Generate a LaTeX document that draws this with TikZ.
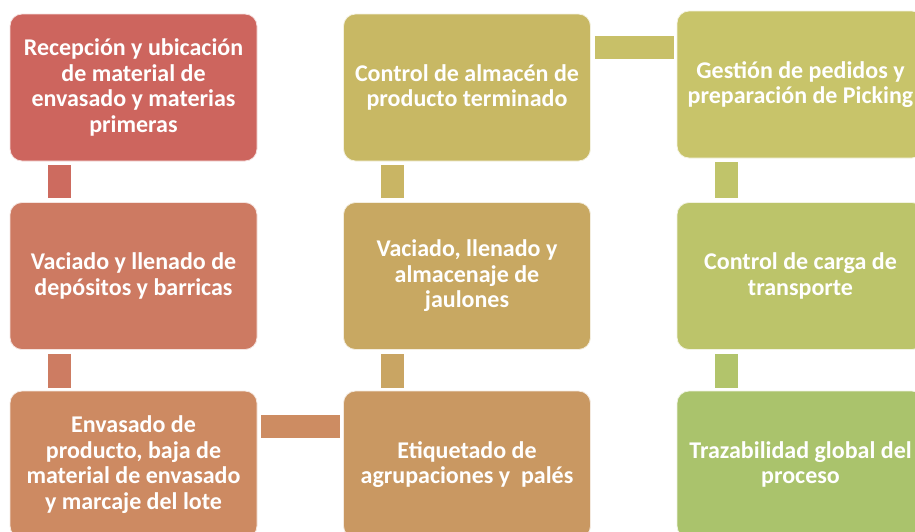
\documentclass[tikz,border=0pt]{standalone}
\usepackage{fontspec}
\setmainfont{Carlito}
\definecolor{boxa}{RGB}{205,101,94}
\definecolor{boxb}{RGB}{205,122,98}
\definecolor{boxc}{RGB}{205,138,98}
\definecolor{boxd}{RGB}{201,152,98}
\definecolor{boxe}{RGB}{200,168,98}
\definecolor{boxf}{RGB}{200,184,100}
\definecolor{boxg}{RGB}{200,196,106}
\definecolor{boxh}{RGB}{188,196,106}
\definecolor{boxi}{RGB}{170,195,108}
\definecolor{linkab}{RGB}{205,107,95}
\definecolor{linkbc}{RGB}{205,124,98}
\definecolor{linkcd}{RGB}{205,140,98}
\definecolor{linkde}{RGB}{201,165,99}
\definecolor{linkef}{RGB}{201,181,100}
\definecolor{linkfg}{RGB}{200,192,104}
\definecolor{linkgh}{RGB}{192,196,106}
\definecolor{linkhi}{RGB}{178,196,107}
\begin{document}
\begin{tikzpicture}[x=1pt,y=-1pt,
  box/.style={rounded corners=12pt, minimum width=247pt, minimum height=147pt,
    align=center, inner sep=0pt, text=white,
    draw=white!80!#1, line width=0.8pt, fill=#1,
    font=\fontsize{24}{25.5}\selectfont\bfseries},
  link/.style={line width=23pt, draw=#1}]
\clip (0,0) rectangle (915,531);
\useasboundingbox (0,0) rectangle (915,531);

\node[box=boxa] (1) at (133.5,87.5) {Recepción y ubicación\\de material de\\envasado y materias\\primeras};
\node[box=boxb] (2) at (133.5,276) {Vaciado y llenado de\\depósitos y barricas};
\node[box=boxc] (3) at (133.5,464.5) {Envasado de\\producto, baja de\\material de envasado\\y marcaje del lote};
\node[box=boxd] (4) at (467,464.5) {Etiquetado de\\agrupaciones y~ palés};
\node[box=boxe] (5) at (467,276) {Vaciado, llenado y\\almacenaje de\\jaulones};
\node[box=boxf] (6) at (467,87.5) {Control de almacén de\\producto terminado};
\node[box=boxg] (7) at (800.5,84.5) {Gestión de pedidos y\\preparación de Picking};
\node[box=boxh] (8) at (800.5,276) {Control de carga de\\transporte};
\node[box=boxi] (9) at (800.5,464.5) {Trazabilidad global del\\proceso};

\path[link=linkab,shorten <=4pt,shorten >=4pt] ([xshift=49.5pt]1.south west) -- ([xshift=49.5pt]2.north west);
\path[link=linkbc,shorten <=4pt,shorten >=3pt] ([xshift=49.5pt]2.south west) -- ([xshift=49.5pt]3.north west);
\path[link=linkcd,shorten <=4pt,shorten >=3pt] ([yshift=-35.5pt]3.north east) -- ([yshift=-35.5pt]4.north west);
\path[link=linkde,shorten <=3pt,shorten >=4pt] ([xshift=49.5pt]4.north west) -- ([xshift=49.5pt]5.south west);
\path[link=linkef,shorten <=4pt,shorten >=4pt] ([xshift=49.5pt]5.north west) -- ([xshift=49.5pt]6.south west);
\path[link=linkfg,shorten <=4pt,shorten >=3pt] ([yshift=-33.5pt]6.north east) -- ([yshift=-33.5pt]6.north east -| 7.west);
\path[link=linkgh,shorten <=4pt,shorten >=4pt] ([xshift=49.5pt]7.south west) -- ([xshift=49.5pt]8.north west);
\path[link=linkhi,shorten <=4pt,shorten >=3pt] ([xshift=49.5pt]8.south west) -- ([xshift=49.5pt]9.north west);
\end{tikzpicture}
\end{document}
